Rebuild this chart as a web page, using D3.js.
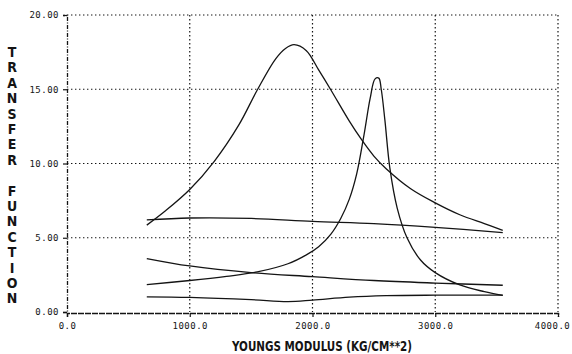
<!DOCTYPE html>
<html>
<head>
<meta charset="utf-8">
<script src="https://cdn.jsdelivr.net/npm/d3@7/dist/d3.min.js"></script>
<style>
  body { margin: 0; background: #fff; }
  svg { display: block; }
</style>
</head>
<body>
<div id="chart"></div>
<script>
const WIDTH = 572
const HEIGHT = 354
const INK = '#141414'

const X_TICKS = [0, 1000, 2000, 3000, 4000]
const Y_TICKS = [0, 5, 10, 15, 20]
const Y_TITLE = 'TRANSFER FUNCTION'
const X_TITLE = 'YOUNGS MODULUS (KG/CM**2)'

// broad resonance
const xBroad = [650, 800, 1000, 1200, 1400, 1550, 1700, 1780, 1850, 1950, 2050, 2150, 2300, 2400, 2500, 2600, 2800, 3000, 3200, 3400, 3550]
const yBroad = [5.85, 6.8, 8.25, 10.15, 12.6, 14.95, 17.05, 17.75, 18.0, 17.6, 16.3, 14.95, 12.85, 11.6, 10.5, 9.65, 8.3, 7.35, 6.55, 5.95, 5.5]

// sharp resonance
const xSharp = [650, 1000, 1300, 1550, 1800, 1950, 2050, 2150, 2230, 2300, 2360, 2420, 2470, 2510, 2540, 2560, 2590, 2630, 2690, 2770, 2880, 3000, 3200, 3400, 3550]
const ySharp = [1.85, 2.12, 2.4, 2.7, 3.25, 3.85, 4.4, 5.25, 6.3, 7.6, 9.3, 11.95, 14.4, 15.7, 15.75, 15.0, 12.9, 9.7, 7.0, 5.0, 3.5, 2.65, 1.82, 1.37, 1.12]

const xFlat = [650, 1000, 1500, 2000, 2500, 3000, 3550]
const yFlat = [6.2, 6.33, 6.3, 6.1, 5.95, 5.7, 5.35]

const xFalling = [650, 1000, 1500, 2000, 2500, 3000, 3550]
const yFalling = [3.6, 3.1, 2.65, 2.38, 2.12, 1.95, 1.8]

const xLow = [650, 1000, 1500, 1800, 2000, 2300, 2600, 3000, 3550]
const yLow = [1.02, 0.98, 0.83, 0.7, 0.8, 1.0, 1.1, 1.13, 1.13]

const series = [
  [xBroad, yBroad],
  [xSharp, ySharp],
  [xFlat, yFlat],
  [xFalling, yFalling],
  [xLow, yLow]
]

const x = d3.scaleLinear().domain([0, 4000]).range([67, 558])
const y = d3.scaleLinear().domain([0, 20]).range([312, 15])

const svg = d3.select('#chart').append('svg')
  .attr('width', WIDTH)
  .attr('height', HEIGHT)

// dotted grid
const grid = svg.append('g')
  .attr('stroke', INK)
  .attr('stroke-width', 1.2)
  .attr('stroke-dasharray', '1.4,2.6')

grid.selectAll('line.v')
  .data(X_TICKS.slice(1))
  .enter().append('line')
  .attr('x1', d => x(d)).attr('x2', d => x(d))
  .attr('y1', y(20)).attr('y2', y(0))

grid.selectAll('line.h')
  .data(Y_TICKS.slice(1))
  .enter().append('line')
  .attr('x1', x(0)).attr('x2', x(4000))
  .attr('y1', d => y(d)).attr('y2', d => y(d))

// axes
const yAxis = svg.append('g')
  .attr('transform', `translate(${x(0)},0)`)
  .call(d3.axisLeft(y).tickValues(Y_TICKS).tickSize(4).tickFormat(d3.format('.2f')))
yAxis.select('.domain')
  .attr('stroke', INK)
  .attr('stroke-width', 1.3)
  .attr('stroke-dasharray', '4,1.5,1,1.5')

const xAxis = svg.append('g')
  .attr('transform', `translate(0,${y(0) + 1})`)
  .call(d3.axisBottom(x).tickValues(X_TICKS).tickSize(4).tickFormat(d3.format('.1f')))
xAxis.select('.domain')
  .attr('stroke', INK)
  .attr('stroke-width', 1.4)
  .attr('stroke-dasharray', '6,1')

svg.selectAll('.tick line').attr('stroke', INK).attr('stroke-width', 1.2)
svg.selectAll('.tick text')
  .attr('fill', INK)
  .attr('font-family', '"DejaVu Sans Mono", monospace')
  .attr('font-size', '9px')
  .attr('letter-spacing', '0.5px')
yAxis.selectAll('.tick text').attr('x', -8)
xAxis.selectAll('.tick text').attr('y', 10)
// last label sits a little left so it stays on the page
xAxis.selectAll('.tick text').filter(d => d === 4000).attr('dx', -6)

// curves
const line = d3.line()
  .curve(d3.curveCatmullRom.alpha(0.5))
  .x(d => x(d[0]))
  .y(d => y(d[1]))

svg.append('g')
  .selectAll('path')
  .data(series.map(([xs, ys]) => xs.map((v, i) => [v, ys[i]])))
  .enter().append('path')
  .attr('fill', 'none')
  .attr('stroke', INK)
  .attr('stroke-width', 1.3)
  .attr('d', line)

// stacked vertical title
svg.append('g')
  .selectAll('text')
  .data(Y_TITLE.split(''))
  .enter().append('text')
  .attr('x', 12)
  .attr('y', (d, i) => 57 + i * 15.4)
  .attr('text-anchor', 'middle')
  .attr('font-family', '"DejaVu Sans Condensed", "DejaVu Sans", sans-serif')
  .attr('font-weight', 'bold')
  .attr('font-size', '14px')
  .attr('fill', INK)
  .text(d => d)

svg.append('text')
  .attr('x', 322)
  .attr('y', 351)
  .attr('text-anchor', 'middle')
  .attr('font-family', '"DejaVu Sans Condensed", "DejaVu Sans", sans-serif')
  .attr('font-weight', 'bold')
  .attr('font-size', '13.5px')
  .attr('textLength', 180)
  .attr('lengthAdjust', 'spacingAndGlyphs')
  .attr('fill', INK)
  .text(X_TITLE)
</script>
</body>
</html>
